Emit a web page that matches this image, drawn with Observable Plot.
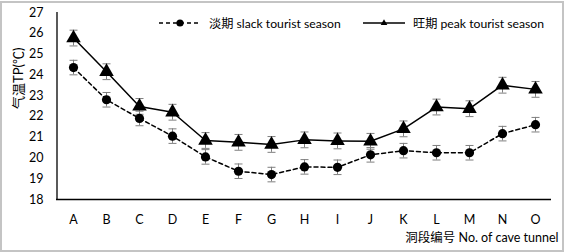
<!DOCTYPE html>
<html><head><meta charset="utf-8">
<script src="https://cdn.jsdelivr.net/npm/d3@7"></script>
<script src="https://cdn.jsdelivr.net/npm/@observablehq/plot@0.6"></script>
<style>
html,body{margin:0;padding:0;background:#fff;}
#wrap{position:relative;width:564px;height:252px;overflow:hidden;font-family:Lato,"Noto Sans CJK SC",sans-serif;}
#frame{position:absolute;width:560px;height:247px;border:2px solid #c4c4c4;left:0;top:1px;pointer-events:none;}
.leg{position:absolute;top:14px;height:18px;display:flex;align-items:center;font-size:12.2px;color:#000;white-space:nowrap;}
.leg svg{margin-right:6px;}
</style></head>
<body><div id="wrap"><div id="chart"></div><div id="legend"></div><div id="frame"></div></div>
<script>
const tunnels = ["A","B","C","D","E","F","G","H","I","J","K","L","M","N","O"];
const slackTP = [24.35,22.8,21.9,21.05,20.05,19.36,19.2,19.57,19.55,20.15,20.35,20.25,20.25,21.17,21.6];
const peakTP  = [25.77,24.15,22.48,22.2,20.84,20.75,20.65,20.87,20.82,20.8,21.4,22.45,22.37,23.5,23.3];
const slackErr = [0.35,0.35,0.35,0.35,0.35,0.35,0.35,0.35,0.35,0.35,0.35,0.35,0.35,0.35,0.35];
const peakErr  = [0.38,0.38,0.38,0.38,0.38,0.38,0.38,0.38,0.38,0.38,0.38,0.38,0.38,0.38,0.38];
const yTicks = [18,19,20,21,22,23,24,25,26,27];
const seriesNames = ["淡期 slack tourist season","旺期 peak tourist season"];
const yLabel = "气温TP(℃)";
const xLabel = "洞段编号 No. of cave tunnel";

const slack = tunnels.map((t,i)=>({t, v:slackTP[i], e:slackErr[i]}));
const peak  = tunnels.map((t,i)=>({t, v:peakTP[i], e:peakErr[i]}));

const cap = {draw(ctx){ctx.moveTo(-4,0);ctx.lineTo(4,0);}};
const errColor = "#7f7f7f";

function errMarks(data){
  return [
    Plot.ruleX(data,{x:"t", y1:d=>d.v-d.e, y2:d=>d.v+d.e, stroke:errColor, strokeWidth:1}),
    Plot.dot(data,{x:"t", y:d=>d.v-d.e, symbol:cap, stroke:errColor, fill:"none", strokeWidth:1}),
    Plot.dot(data,{x:"t", y:d=>d.v+d.e, symbol:cap, stroke:errColor, fill:"none", strokeWidth:1})
  ];
}

const chart = Plot.plot({
  width:564, height:252,
  marginLeft:56, marginRight:13, marginTop:12, marginBottom:53,
  style:{fontFamily:'Lato,"Noto Sans CJK SC",sans-serif', fontSize:"12.5px", color:"#000", background:"transparent"},
  x:{type:"point", domain:tunnels, padding:0.5, align:0.5},
  y:{domain:[18,27]},
  marks:[
    Plot.axisY({ticks:yTicks, tickSize:0, tickPadding:13, label:null, fontSize:12.5}),
    Plot.axisX({tickSize:0, tickPadding:16, label:null, fontSize:12.5}),
    Plot.text([yLabel],{frameAnchor:"left", text:d=>d, rotate:-90, dx:-38, dy:3, fontSize:13}),
    Plot.ruleX([tunnels[0]],{x:d=>d, dx:-16.5, stroke:"#000", strokeWidth:1.3}),
    Plot.ruleY([18],{stroke:"#000", strokeWidth:1.3}),
    ...errMarks(slack),
    ...errMarks(peak),
    Plot.line(slack,{x:"t", y:"v", stroke:"#000", strokeWidth:1.5, strokeDasharray:"4,3"}),
    Plot.line(peak,{x:"t", y:"v", stroke:"#000", strokeWidth:1.5}),
    Plot.dot(slack,{x:"t", y:"v", r:4.6, fill:"#000", stroke:"none"}),
    Plot.dot(peak,{x:"t", y:"v", r:5.4, symbol:"triangle", fill:"#000", stroke:"none"}),
    Plot.text([xLabel],{frameAnchor:"bottom-right", text:d=>d, textAnchor:"end", dx:7, dy:42, fontSize:12.5})
  ]
});
document.getElementById("chart").append(chart);

// legend
const leg = document.getElementById("legend");
function item(left, name, dashed, sym){
  const div = document.createElement("div");
  div.className = "leg";
  div.style.left = left + "px";
  const s = d3.create("svg").attr("width",44).attr("height",14);
  s.append("line").attr("x1",0).attr("x2",42).attr("y1",7).attr("y2",7)
    .attr("stroke","#000").attr("stroke-width",1.5).attr("stroke-dasharray",dashed?"4,3":null);
  if(sym==="circle") s.append("circle").attr("cx",21).attr("cy",7).attr("r",3.6).attr("fill","#000");
  else s.append("path").attr("d",d3.symbol(d3.symbolTriangle2, 32)()).attr("transform","translate(21,7)").attr("fill","#000");
  div.append(s.node());
  const sp = document.createElement("span"); sp.textContent = name; div.append(sp);
  leg.append(div);
}
item(159, seriesNames[0], true, "circle");
item(363, seriesNames[1], false, "triangle");
</script></body></html>
